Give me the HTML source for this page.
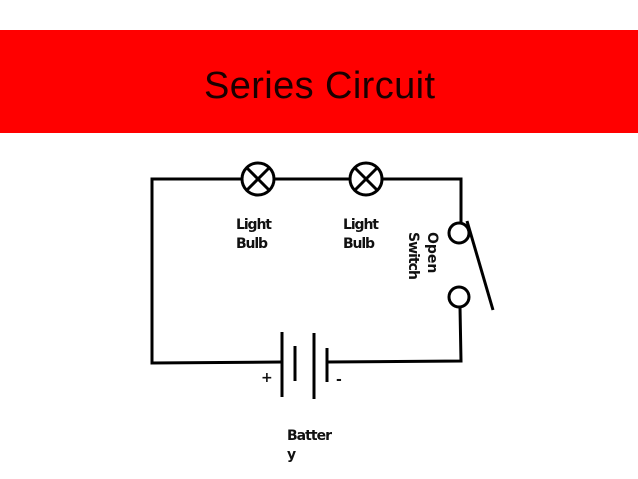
<!DOCTYPE html>
<html><head><style>body{margin:0;background:#fff}svg{display:block}</style></head>
<body>
<svg width="638" height="479" xmlns="http://www.w3.org/2000/svg">
<rect x="0" y="30" width="638" height="103" fill="#ff0000"/>
<text x="204" y="98" font-family="Liberation Sans, sans-serif" font-size="38" fill="#1a0000" textLength="231">Series Circuit</text>
<g stroke="#000" stroke-width="3" fill="none">
<polyline points="242,179 152,179 152,363 282,362"/>
<line x1="274" y1="179" x2="350" y2="179"/>
<polyline points="382,179 461,179 461,223"/>
<circle cx="258" cy="179" r="16"/>
<line x1="247" y1="168" x2="269" y2="190"/><line x1="269" y1="168" x2="247" y2="190"/>
<circle cx="366" cy="179" r="16"/>
<line x1="355" y1="168" x2="377" y2="190"/><line x1="377" y1="168" x2="355" y2="190"/>
<circle cx="459" cy="233" r="10"/>
<circle cx="459" cy="297" r="10"/>
<line x1="467" y1="221" x2="493" y2="310"/>
<polyline points="460,307 461,361 327,362"/>
<line x1="282" y1="332" x2="282" y2="397"/>
<line x1="295" y1="346" x2="295" y2="381"/>
<line x1="314" y1="333" x2="314" y2="399"/>
<line x1="327" y1="348" x2="327" y2="382"/>
</g>
<g font-family="DejaVu Sans, sans-serif" font-weight="bold" font-size="14" fill="#111">
<text x="236" y="229" textLength="36">Light</text><text x="236" y="248" textLength="32">Bulb</text>
<text x="343" y="229" textLength="36">Light</text><text x="343" y="248" textLength="32">Bulb</text>
<text x="261" y="382">+</text><text x="336" y="384">-</text>
<text x="287" y="440" textLength="45">Batter</text><text x="287" y="459">y</text>
<text transform="translate(428,232) rotate(90)">Open</text>
<text transform="translate(409,232) rotate(90)" textLength="48">Switch</text>
</g>
</svg>
</body></html>
